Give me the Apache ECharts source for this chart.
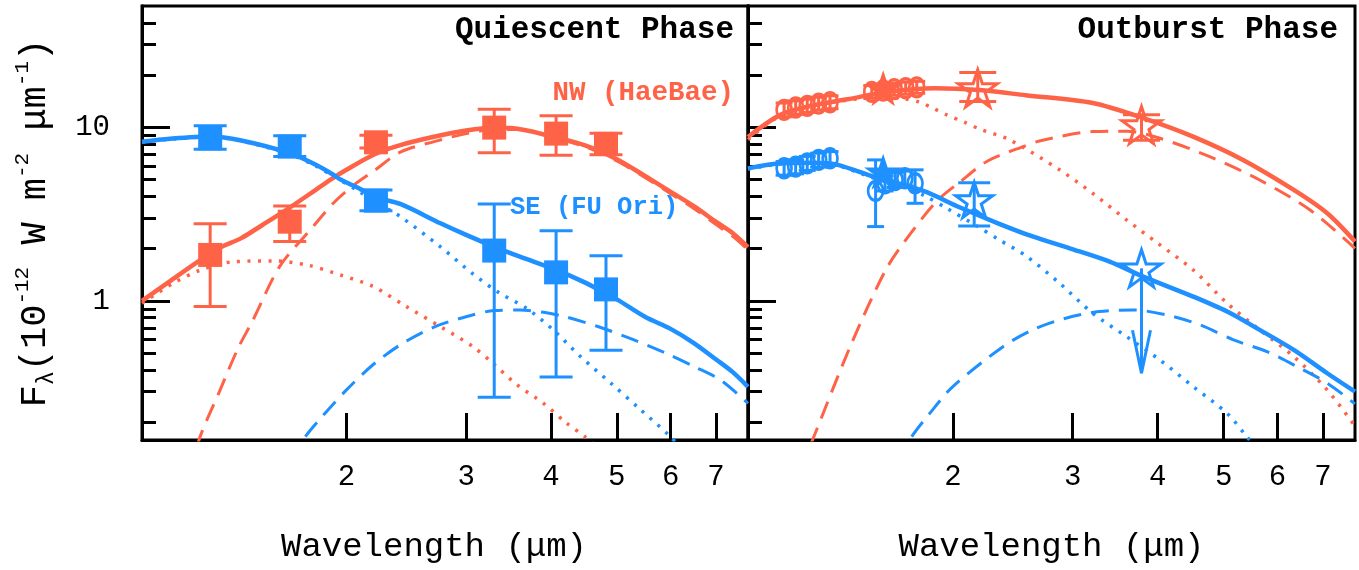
<!DOCTYPE html>
<html>
<head>
<meta charset="utf-8">
<script src="https://cdn.jsdelivr.net/npm/echarts@6.0.0/dist/echarts.min.js"></script>
<style>
html,body{margin:0;padding:0;background:#fff;}
#chart{width:1359px;height:570px;}
</style>
</head>
<body>
<div id="chart"></div>
<script>
// ---------------- axis ranges and ticks ----------------
const xRange = [1.0, 7.8];
const yRange = [0.158, 50];
const xTicks = [2, 3, 4, 5, 6, 7];
const yMajorTicks = [1, 10];
const yMinorTicks = [0.2, 0.3, 0.4, 0.5, 0.6, 0.7, 0.8, 0.9, 2, 3, 4, 5, 6, 7, 8, 9, 20, 30, 40];

// ---------------- Quiescent phase photometry ----------------
const qWave   = [1.26, 1.65, 2.21, 3.30, 4.07, 4.82];
const qSEFlux = [8.65, 7.74, 3.78, 1.95, 1.46, 1.165];
const qSELo   = [7.48, 6.78, 3.31, 0.279, 0.364, 0.52];
const qSEHi   = [10.2, 8.95, 4.36, 3.62, 2.54, 1.82];
const qNWFlux = [1.84, 2.86, 8.2, 9.96, 9.2, 8.03];
const qNWLo   = [0.927, 2.2, 7.6, 7.14, 6.9, 6.95];
const qNWHi   = [2.78, 3.52, 9.0, 12.7, 11.66, 9.23];

// ---------------- Quiescent phase models [wavelength, flux] ----------------
const qNWTotal = [[1.0,1.0],[1.1,1.3],[1.2,1.65],[1.3,2.02],[1.4,2.3],[1.5,2.72],[1.65,3.45],[1.8,4.35],[1.91,5.1],[2.0,5.7],[2.2,7.0],[2.4,7.9],[2.7,8.85],[3.0,9.6],[3.3,9.95],[3.5,9.9],[4.0,8.9],[4.5,7.85],[5.0,6.55],[5.5,5.25],[6.0,4.25],[6.5,3.5],[7.0,2.85],[7.4,2.46],[7.8,2.04]];
const qNWDisk  = [[1.15,0.07],[1.213,0.158],[1.3,0.30],[1.385,0.534],[1.457,0.777],[1.595,1.58],[1.786,2.68],[1.912,3.65],[2.05,4.65],[2.2,5.65],[2.4,7.2],[2.7,8.3],[3.0,9.2],[3.3,9.7],[3.6,9.7],[4.0,8.75],[4.5,7.7],[5.0,6.4],[5.5,5.15],[6.0,4.15],[6.5,3.4],[7.0,2.75],[7.4,2.36],[7.8,1.97]];
const qNWStar  = [[1.0,0.97],[1.11,1.26],[1.216,1.5],[1.36,1.68],[1.56,1.7],[1.75,1.61],[1.96,1.41],[2.19,1.21],[2.45,0.927],[2.75,0.711],[3.07,0.545],[3.29,0.435],[3.56,0.33],[3.9,0.257],[4.22,0.197],[4.49,0.165],[4.8,0.13]];
const qSETotal = [[1.0,8.26],[1.1,8.6],[1.26,8.86],[1.4,8.4],[1.65,7.1],[1.8,6.1],[1.91,5.35],[1.96,5.0],[2.1,4.4],[2.21,3.95],[2.4,3.62],[2.75,2.8],[3.0,2.4],[3.3,2.05],[3.6,1.8],[4.07,1.51],[4.5,1.27],[5.0,1.02],[5.5,0.81],[6.0,0.69],[6.5,0.57],[7.0,0.46],[7.4,0.39],[7.8,0.32]];
const qSEStar  = [[1.0,8.2],[1.1,8.55],[1.26,8.8],[1.4,8.35],[1.65,7.0],[1.8,6.0],[1.91,5.25],[2.07,4.36],[2.2,3.75],[2.4,3.06],[2.75,2.05],[3.07,1.43],[3.36,1.11],[3.68,0.908],[4.03,0.681],[4.42,0.478],[4.9,0.336],[5.42,0.236],[5.96,0.169],[6.4,0.125]];
const qSEDisk  = [[1.6,0.085],[1.727,0.158],[1.85,0.22],[2.0,0.307],[2.19,0.43],[2.42,0.57],[2.7,0.711],[3.0,0.81],[3.3,0.88],[3.6,0.885],[3.9,0.86],[4.2,0.81],[4.7,0.71],[5.3,0.596],[5.9,0.5],[6.5,0.418],[7.1,0.351],[7.8,0.257]];

// ---------------- Outburst phase photometry ----------------
const oNWCircWave = [1.13, 1.175, 1.222, 1.27, 1.32, 1.52, 1.58, 1.64, 1.705, 1.77];
const oNWCirc     = [12.6, 13.0, 13.3, 13.7, 13.95, 16.0, 16.3, 16.6, 16.8, 17.0];
const oNWCircLo   = [11.5, 11.9, 12.2, 12.6, 12.8, 14.7, 15.0, 15.3, 15.5, 15.7];
const oNWCircHi   = [13.8, 14.2, 14.5, 14.9, 15.2, 17.4, 17.7, 18.0, 18.2, 18.4];
const oSECircWave = [1.13, 1.175, 1.222, 1.27, 1.32, 1.54, 1.59, 1.645, 1.70, 1.76];
const oSECirc     = [5.81, 5.94, 6.2, 6.49, 6.63, 4.3, 4.76, 4.97, 5.09, 4.76];
const oSECircLo   = [5.3, 5.4, 5.65, 5.9, 6.05, 2.68, 4.3, 4.5, 4.6, 3.65];
const oSECircHi   = [6.35, 6.5, 6.8, 7.1, 7.25, 6.49, 5.25, 5.5, 5.6, 5.69];
const oFilledStarWave = [1.58];
const oNWFilledStar   = [16.8];
const oSEFilledStar   = [5.55];
const oNWStarWave = [2.176, 3.787];
const oNWStarFlux = [16.8, 10.3];
const oNWStarLo   = [14.1, 8.43];
const oNWStarHi   = [20.7, 11.8];
const oSEStarWave = [2.15];
const oSEStarFlux = [3.82];
const oSEStarLo   = [2.7];
const oSEStarHi   = [4.8];
const oSELimitWave = [3.787];
const oSELimitFlux = [1.54];
const oSELimitTip  = [0.383];

// ---------------- Outburst phase models [wavelength, flux] ----------------
const oNWTotal = [[1.0,8.8],[1.116,11.8],[1.25,13.4],[1.4,14.5],[1.6,16.0],[1.88,16.8],[2.19,16.4],[2.56,15.3],[3.21,13.8],[3.81,11.3],[4.51,8.84],[5.34,6.49],[6.34,4.36],[7.1,3.2],[7.8,2.2]];
const oNWDisk  = [[1.15,0.075],[1.244,0.158],[1.413,0.545],[1.594,1.51],[1.734,2.45],[1.9,3.8],[2.05,4.85],[2.25,6.4],[2.55,7.8],[2.71,8.43],[3.21,9.45],[3.6,9.5],[4.03,8.65],[4.77,6.78],[5.65,4.97],[6.7,3.34],[7.8,2.01]];
const oNWStar  = [[1.0,8.5],[1.116,11.7],[1.25,13.3],[1.45,14.6],[1.6,14.9],[1.7,14.6],[1.785,14.0],[1.877,12.8],[1.96,11.8],[2.08,10.7],[2.2,9.7],[2.42,8.5],[2.87,5.69],[3.21,4.17],[3.6,2.93],[4.0,2.15],[4.51,1.51],[5.06,0.97],[5.65,0.681],[6.34,0.478],[7.1,0.307],[7.8,0.19]];
const oSETotal = [[1.0,5.8],[1.12,6.2],[1.25,6.25],[1.35,6.1],[1.53,5.2],[1.81,4.3],[2.05,3.45],[2.33,2.8],[2.62,2.35],[2.97,2.01],[3.4,1.684],[3.81,1.38],[4.51,1.059],[5.06,0.868],[5.65,0.681],[6.34,0.522],[7.1,0.383],[7.8,0.30]];
const oSEStar  = [[1.0,5.75],[1.12,6.15],[1.25,6.2],[1.35,6.05],[1.53,5.1],[1.7,4.5],[1.814,4.05],[1.963,3.4],[2.17,2.7],[2.343,2.24],[2.56,1.82],[2.87,1.265],[3.21,0.85],[3.6,0.623],[4.03,0.457],[4.51,0.321],[5.06,0.225],[5.41,0.165],[5.8,0.12]];
const oSEDisk  = [[1.6,0.085],[1.728,0.158],[1.85,0.225],[2.0,0.321],[2.37,0.545],[2.62,0.681],[2.93,0.795],[3.28,0.868],[3.68,0.887],[4.12,0.831],[4.62,0.727],[5.17,0.596],[5.79,0.51],[6.47,0.41],[7.1,0.336],[7.8,0.255]];

// ---------------- styling ----------------
const RED = '#FF6347';
const BLUE = '#1E90FF';
const FONT = '"Liberation Mono", "DejaVu Sans Mono", monospace';
const STAR = 'path://M50,2 L61.8,38.2 L99.8,38.2 L69,60.6 L80.8,96.8 L50,74.4 L19.2,96.8 L31,60.6 L0.2,38.2 L38.2,38.2 Z';

const log10 = v => Math.log10(v);

// axis indices: x: 0 log(q), 1 ticks(q), 2 log(o), 3 ticks(o)
//               y: 0 log(q), 1 major(q), 2 minor(q), 3 log(o), 4 major(o), 5 minor(o)
const AX = [{x: 0, y: 0}, {x: 2, y: 3}];

function lineSeries(data, panel, color, kind) {
  const ls = {color: color};
  if (kind === 'solid') { ls.width = 4.5; ls.type = 'solid'; }
  else if (kind === 'dashed') { ls.width = 3; ls.type = [18, 10]; }
  else { ls.width = 3.5; ls.type = [3, 7.5]; }
  return {
    type: 'line', xAxisIndex: AX[panel].x, yAxisIndex: AX[panel].y,
    data: data, showSymbol: false, symbol: 'none', smooth: 0.3,
    lineStyle: ls, clip: true, z: kind === 'solid' ? 3 : 2, silent: true
  };
}

function zip(xs, ys) { return xs.map((x, i) => [x, ys[i]]); }
function zip3(xs, a, b) { return xs.map((x, i) => [x, a[i], b[i]]); }

function errorSeries(xs, lo, hi, panel, color, capHalf, width) {
  return {
    type: 'custom', xAxisIndex: AX[panel].x, yAxisIndex: AX[panel].y,
    data: zip3(xs, lo, hi), clip: true, z: 4, silent: true,
    renderItem: function (params, api) {
      const x = api.value(0);
      const pLo = api.coord([x, api.value(1)]);
      const pHi = api.coord([x, api.value(2)]);
      const st = {stroke: color, lineWidth: width, fill: null};
      return {type: 'group', children: [
        {type: 'line', shape: {x1: pLo[0], y1: pLo[1], x2: pHi[0], y2: pHi[1]}, style: st},
        {type: 'line', shape: {x1: pLo[0] - capHalf, y1: pLo[1], x2: pLo[0] + capHalf, y2: pLo[1]}, style: st},
        {type: 'line', shape: {x1: pHi[0] - capHalf, y1: pHi[1], x2: pHi[0] + capHalf, y2: pHi[1]}, style: st}
      ]};
    }
  };
}

function arrowSeries(xs, ys, tips, panel, color) {
  return {
    type: 'custom', xAxisIndex: AX[panel].x, yAxisIndex: AX[panel].y,
    data: zip3(xs, ys, tips), clip: true, z: 4, silent: true,
    renderItem: function (params, api) {
      const x = api.value(0);
      const p0 = api.coord([x, api.value(1)]);
      const p1 = api.coord([x, api.value(2)]);
      const st = {stroke: color, lineWidth: 3, fill: null};
      return {type: 'group', children: [
        {type: 'line', shape: {x1: p0[0], y1: p0[1], x2: p1[0], y2: p1[1]}, style: st},
        {type: 'line', shape: {x1: p1[0] - 9, y1: p1[1] - 43, x2: p1[0], y2: p1[1]}, style: st},
        {type: 'line', shape: {x1: p1[0] + 9, y1: p1[1] - 43, x2: p1[0], y2: p1[1]}, style: st}
      ]};
    }
  };
}

function scatterSeries(data, panel, symbol, size, filled, color, bw) {
  return {
    type: 'scatter', xAxisIndex: AX[panel].x, yAxisIndex: AX[panel].y,
    data: data, symbol: symbol, symbolSize: size, symbolKeepAspect: true,
    itemStyle: filled ? {color: color, opacity: 1} : {color: 'none', borderColor: color, borderWidth: bw || 2.5, opacity: 1},
    z: 5, silent: true
  };
}

// ---------------- axes ----------------
function logX(grid, name, pad) {
  return {
    type: 'log', gridIndex: grid, min: xRange[0], max: xRange[1], position: 'bottom',
    axisLine: {show: false, onZero: false}, axisTick: {show: false}, axisLabel: {show: false}, splitLine: {show: false},
    name: name, nameLocation: 'middle', nameGap: 90,
    nameTextStyle: {fontFamily: FONT, fontSize: 34, color: '#000', padding: pad}
  };
}
function tickX(grid) {
  const vals = xTicks.map(log10);
  return {
    type: 'value', gridIndex: grid, min: log10(xRange[0]), max: log10(xRange[1]), position: 'bottom',
    axisLine: {show: true, onZero: false, lineStyle: {color: '#000', width: 3}}, splitLine: {show: false},
    axisTick: {show: true, inside: true, length: 27, lineStyle: {width: 3, color: '#000'}, customValues: vals},
    axisLabel: {show: true, customValues: vals, margin: 23, fontFamily: FONT, fontSize: 29, color: '#000',
      formatter: v => String(Math.round(Math.pow(10, v)))}
  };
}
function logY(grid, withName) {
  const ax = {
    type: 'log', gridIndex: grid, min: yRange[0], max: yRange[1], position: 'left',
    axisLine: {show: false, onZero: false}, axisTick: {show: false}, axisLabel: {show: false}, splitLine: {show: false}
  };
  if (withName) {
    ax.name = '{m|F}{s|λ}{m|(10}{u|-12}{m| W m}{u|-2}{m| μm}{u|-1}{m|)}';
    ax.nameLocation = 'middle';
    ax.nameGap = 84;
    ax.nameTextStyle = {
      color: '#000',
      rich: {
        m: {fontFamily: FONT, fontSize: 37, lineHeight: 46, color: '#000', verticalAlign: 'middle'},
        s: {fontFamily: FONT, fontSize: 23, lineHeight: 46, color: '#000', verticalAlign: 'bottom'},
        u: {fontFamily: FONT, fontSize: 21, lineHeight: 46, color: '#000', verticalAlign: 'top'}
      }
    };
  }
  return ax;
}
function tickY(grid, vals, len, labels) {
  const v = vals.map(log10);
  return {
    type: 'value', gridIndex: grid, min: log10(yRange[0]), max: log10(yRange[1]), position: 'left',
    axisLine: {show: true, onZero: false, lineStyle: {color: '#000', width: 3}}, splitLine: {show: false},
    axisTick: {show: true, inside: true, length: len, lineStyle: {width: 3, color: '#000'}, customValues: v},
    axisLabel: {show: labels, customValues: v, margin: 32, fontFamily: FONT, fontSize: 29, color: '#000',
      formatter: val => String(Math.round(Math.pow(10, val)))}
  };
}

const series = [
  // quiescent models
  lineSeries(qNWStar, 0, RED, 'dotted'),
  lineSeries(qNWDisk, 0, RED, 'dashed'),
  lineSeries(qSEStar, 0, BLUE, 'dotted'),
  lineSeries(qSEDisk, 0, BLUE, 'dashed'),
  lineSeries(qNWTotal, 0, RED, 'solid'),
  lineSeries(qSETotal, 0, BLUE, 'solid'),
  // quiescent photometry
  errorSeries(qWave, qNWLo, qNWHi, 0, RED, 16.5, 3),
  errorSeries(qWave, qSELo, qSEHi, 0, BLUE, 16.5, 3),
  scatterSeries(zip(qWave, qNWFlux), 0, 'rect', 24, true, RED),
  scatterSeries(zip(qWave, qSEFlux), 0, 'rect', 24, true, BLUE),
  // outburst models
  lineSeries(oNWStar, 1, RED, 'dotted'),
  lineSeries(oNWDisk, 1, RED, 'dashed'),
  lineSeries(oSEStar, 1, BLUE, 'dotted'),
  lineSeries(oSEDisk, 1, BLUE, 'dashed'),
  lineSeries(oNWTotal, 1, RED, 'solid'),
  lineSeries(oSETotal, 1, BLUE, 'solid'),
  // outburst photometry
  errorSeries(oNWCircWave, oNWCircLo, oNWCircHi, 1, RED, 8.5, 3),
  errorSeries(oSECircWave, oSECircLo, oSECircHi, 1, BLUE, 8.5, 3),
  scatterSeries(zip(oNWCircWave, oNWCirc), 1, 'circle', [15, 19], false, RED, 3),
  scatterSeries(zip(oSECircWave, oSECirc), 1, 'circle', [15, 19], false, BLUE, 3),
  scatterSeries(zip(oFilledStarWave, oNWFilledStar), 1, STAR, 38, true, RED),
  scatterSeries(zip(oFilledStarWave, oSEFilledStar), 1, STAR, 38, true, BLUE),
  errorSeries(oNWStarWave, oNWStarLo, oNWStarHi, 1, RED, 18.5, 3),
  errorSeries(oSEStarWave, oSEStarLo, oSEStarHi, 1, BLUE, 16, 3),
  scatterSeries(zip(oNWStarWave, oNWStarFlux), 1, STAR, 39, false, RED, 3),
  scatterSeries(zip(oSEStarWave, oSEStarFlux), 1, STAR, 37, false, BLUE, 3),
  arrowSeries(oSELimitWave, oSELimitFlux, oSELimitTip, 1, BLUE),
  scatterSeries(zip(oSELimitWave, oSELimitFlux), 1, STAR, 39, false, BLUE, 3)
];

function label(text, x, y, align, color, size, weight) {
  return {
    type: 'text', x: x, y: y, z: 10, silent: true,
    style: {text: text, fontFamily: FONT, fontSize: size, fontWeight: weight, fill: color,
      textAlign: align, textVerticalAlign: 'middle', align: align, verticalAlign: 'middle'}
  };
}

const option = {
  animation: false,
  backgroundColor: '#fff',
  grid: [
    {left: 142, top: 6, width: 606, height: 434, show: true, borderColor: '#000', borderWidth: 3, backgroundColor: 'transparent'},
    {left: 748, top: 6, width: 607, height: 434, show: true, borderColor: '#000', borderWidth: 3, backgroundColor: 'transparent'}
  ],
  xAxis: [
    logX(0, 'Wavelength (μm)', [0, 22, 0, 0]), tickX(0),
    logX(1, 'Wavelength (μm)', [0, 0, 0, 0]), tickX(1)
  ],
  yAxis: [
    logY(0, true), tickY(0, yMajorTicks, 28, true), tickY(0, yMinorTicks, 14, false),
    logY(1, false), tickY(1, yMajorTicks, 28, false), tickY(1, yMinorTicks, 14, false)
  ],
  series: series,
  graphic: [
    label('Quiescent Phase', 734, 30, 'right', '#000', 31, 'bold'),
    label('Outburst Phase', 1338, 30, 'right', '#000', 31, 'bold'),
    label('NW (HaeBae)', 734, 93, 'right', RED, 27.5, 'bold'),
    label('SE (FU Ori)', 510, 208, 'left', BLUE, 25.5, 'bold')
  ]
};

const chart = echarts.init(document.getElementById('chart'), null, {renderer: 'canvas'});
chart.setOption(option);
</script>
</body>
</html>
